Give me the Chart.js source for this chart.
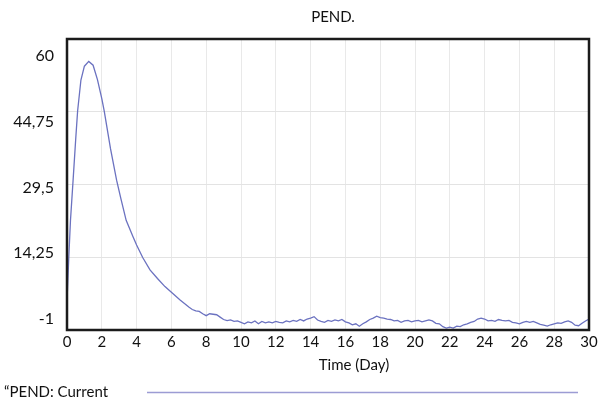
<!DOCTYPE html>
<html>
<head>
<meta charset="utf-8">
<script src="https://cdn.jsdelivr.net/npm/chart.js@4/dist/chart.umd.min.js"></script>
<style>
html,body{margin:0;padding:0;background:#fff;}
#wrap{width:607px;height:401px;}
</style>
</head>
<body>
<div id="wrap"><canvas id="c" width="607" height="401"></canvas></div>
<script>
const chartTitle = "PEND.";
const xAxisTitle = "Time (Day)";
const seriesLabel = "\u201cPEND: Current";
const xTicks = [0,2,4,6,8,10,12,14,16,18,20,22,24,26,28,30];
const yTicks = [-1,14.25,29.5,44.75,60];
const times = [0,0.1,0.2,0.35,0.5,0.61,0.8,1.0,1.25,1.5,1.75,2.0,2.14,2.5,2.85,3.1,3.4,3.8,4.0,4.35,4.77,5.2,5.63,6.0,6.5,
  7.0,7.2,7.4,7.6,7.8,8.0,8.2,8.4,8.6,8.8,9.0,9.2,9.4,9.6,9.8,10.0,10.2,10.4,10.6,10.8,11.0,11.2,11.4,11.6,11.8,
  12.0,12.2,12.4,12.6,12.8,13.0,13.2,13.4,13.6,13.8,14.0,14.2,14.4,14.6,14.8,15.0,15.2,15.4,15.6,15.8,
  16.0,16.2,16.4,16.6,16.8,17.0,17.2,17.4,17.6,17.8,18.0,18.2,18.4,18.6,18.8,19.0,19.2,19.4,19.6,19.8,
  20.0,20.2,20.4,20.6,20.8,21.0,21.2,21.4,21.6,21.8,22.0,22.2,22.4,22.6,22.8,23.0,23.2,23.4,23.6,23.8,
  24.0,24.2,24.4,24.6,24.8,25.0,25.2,25.4,25.6,25.8,26.0,26.2,26.4,26.6,26.8,27.0,27.2,27.4,27.6,27.8,
  28.0,28.2,28.4,28.6,28.8,29.0,29.2,29.4,29.6,29.8,30.0];
const pend = [5,14,22,30.4,39,44.9,51.4,54.3,55.3,54.5,51.5,47.5,44.9,37,30.4,26.5,22,18.5,16.8,14.2,11.6,9.8,8.1,6.9,5.3,
  3.8,3.3,3.0,2.9,2.4,2.0,2.4,2.3,2.2,1.7,1.2,0.95,1.1,0.8,0.9,0.6,0.3,0.7,0.5,0.9,0.3,0.8,0.5,0.7,0.5,
  0.8,0.6,0.5,0.9,0.7,1.0,0.8,1.2,0.9,1.3,1.5,1.8,1.1,0.8,0.6,1.0,0.8,1.1,0.9,1.2,
  0.7,0.5,0.1,0.3,-0.2,0.3,0.7,1.2,1.5,1.9,1.6,1.5,1.3,1.2,0.9,1.0,0.6,0.9,1.0,0.7,
  0.9,1.0,0.7,0.9,1.1,0.9,0.4,0.3,-0.3,-0.6,-0.4,-0.6,-0.2,-0.3,0.1,0.3,0.6,0.8,1.3,1.5,
  1.3,0.9,1.0,0.8,1.2,1.0,0.9,1.0,0.6,0.5,0.3,0.6,0.8,0.6,0.8,0.5,0.2,0.0,-0.2,0.1,
  0.3,0.5,0.4,0.7,0.9,0.6,0.0,-0.1,0.4,0.9,1.3];

const FONT = "Lato";
const points = times.map((t,i)=>({x:t,y:pend[i]}));
const fmt = v => String(v).replace('.', ',');

const decor = {
  id:'decor',
  afterDatasetsDraw(chart){
    const ctx = chart.ctx, a = chart.chartArea;
    ctx.save();
    ctx.strokeStyle = '#1b1b1b';
    ctx.lineWidth = 2.5;
    ctx.strokeRect(a.left, a.top, a.right - a.left, a.bottom - a.top);
    ctx.fillStyle = '#111';
    ctx.font = '15px ' + FONT;
    ctx.textBaseline = 'middle';
    ctx.textAlign = 'center';
    ctx.fillText(chartTitle, 333, 17);
    ctx.fillText(xAxisTitle, 354, 365);
    ctx.textAlign = 'left';
    ctx.fillText(seriesLabel, 4, 392);
    ctx.strokeStyle = chart.data.datasets[0].legendColor;
    ctx.lineWidth = 1.5;
    ctx.beginPath();
    ctx.moveTo(147, 392.5);
    ctx.lineTo(578, 392.5);
    ctx.stroke();
    ctx.restore();
  }
};

new Chart(document.getElementById('c'), {
  type: 'line',
  data: {
    datasets: [{
      label: seriesLabel,
      data: points,
      borderColor: '#6b72c0',
      legendColor: '#9c9cd4',
      borderWidth: 1.3,
      pointRadius: 0,
      tension: 0,
      yAxisID: 'y'
    }]
  },
  options: {
    responsive: false,
    animation: false,
    devicePixelRatio: 1,
    layout: { padding: { top: 39, right: 18, bottom: 0, left: 0 } },
    plugins: { legend: { display: false }, title: { display: false }, tooltip: { enabled: false } },
    scales: {
      x: {
        type: 'linear', min: 0, max: 30,
        afterBuildTicks: s => { s.ticks = xTicks.map(v => ({value: v})); },
        afterFit: s => { s.height = 71; },
        grid: { color: '#e9e9e9', drawTicks: false, lineWidth: 1 },
        border: { display: false },
        ticks: { color: '#111', font: { family: FONT, size: 15 }, padding: 3, maxRotation: 0, autoSkip: false }
      },
      y: {
        type: 'linear', position: 'left', min: -1, max: 60,
        afterBuildTicks: s => { s.ticks = yTicks.map(v => ({value: v})); },
        afterFit: s => { s.width = 0; },
        grid: { color: '#e3e3e3', drawTicks: false, lineWidth: 1 },
        border: { display: false },
        ticks: { display: false }
      },
      yLabels: {
        type: 'linear', position: 'left', min: -3.55, max: 63.94,
        afterBuildTicks: s => { s.ticks = yTicks.map(v => ({value: v})); },
        afterFit: s => { s.width = 67; },
        grid: { display: false, drawTicks: false },
        border: { display: false },
        ticks: { color: '#111', font: { family: FONT, size: 16 }, padding: 13, callback: v => fmt(v) }
      }
    }
  },
  plugins: [decor]
});
</script>
</body>
</html>
